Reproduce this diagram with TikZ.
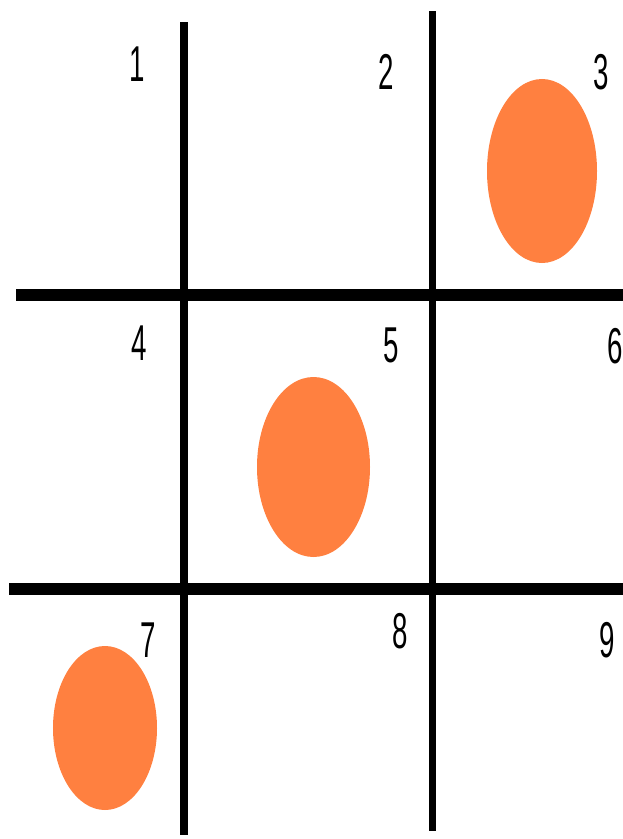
\documentclass[tikz,border=0pt]{standalone}
\usepackage{fontspec}
\setmainfont{Liberation Sans}
\usepackage{tikz}
\usetikzlibrary{shapes.geometric}
\definecolor{pieceorange}{RGB}{255,128,64}
\newcommand{\cellnum}[1]{\scalebox{0.55}[1]{#1}}
\tikzset{
  vline/.style={draw, line width=6.4pt},
  hline/.style={draw, line width=9.8pt},
  piece/.style={ellipse, fill=pieceorange, inner sep=0pt},
  num/.style={font=\fontsize{43}{43}\selectfont, inner sep=0pt}
}

\begin{document}
\begin{tikzpicture}[x=0.03cm, y=-0.03cm]
\useasboundingbox (0,0) rectangle (623,839);
% grid lines
\coordinate (v1t) at (184,22);
\coordinate (v1b) at (184,835);
\coordinate (v2t) at (432.5,11);
\coordinate (v2b) at (432.5,831);
\coordinate (h1l) at (16,295);
\coordinate (h1r) at (623,295);
\coordinate (h2l) at (9,589);
\coordinate (h2r) at (623,589);
\draw[vline] (v1t) -- (v1b);
\draw[vline] (v2t) -- (v2b);
\draw[hline] (h1l) -- (h1r);
\draw[hline] (h2l) -- (h2r);
% pieces
\node[piece, minimum width=3.3cm, minimum height=5.52cm] (p3) at (542,171) {};
\node[piece, minimum width=3.39cm, minimum height=5.4cm] (p5) at (313.5,467) {};
\node[piece, minimum width=3.12cm, minimum height=4.92cm] (p7) at (105,728) {};
% cell numbers
\node[num] (n1) at (137,64) {\cellnum{1}};
\node[num] (n2) at (386,72) {\cellnum{2}};
\node[num] (n3) at (601,72) {\cellnum{3}};
\node[num] (n4) at (139,343) {\cellnum{4}};
\node[num] (n5) at (391,345) {\cellnum{5}};
\node[num] (n6) at (615.5,346.5) {\cellnum{6}};
\node[num] (n7) at (148,640) {\cellnum{7}};
\node[num] (n8) at (400,631) {\cellnum{8}};
\node[num] (n9) at (607,640) {\cellnum{9}};
\end{tikzpicture}
\end{document}
